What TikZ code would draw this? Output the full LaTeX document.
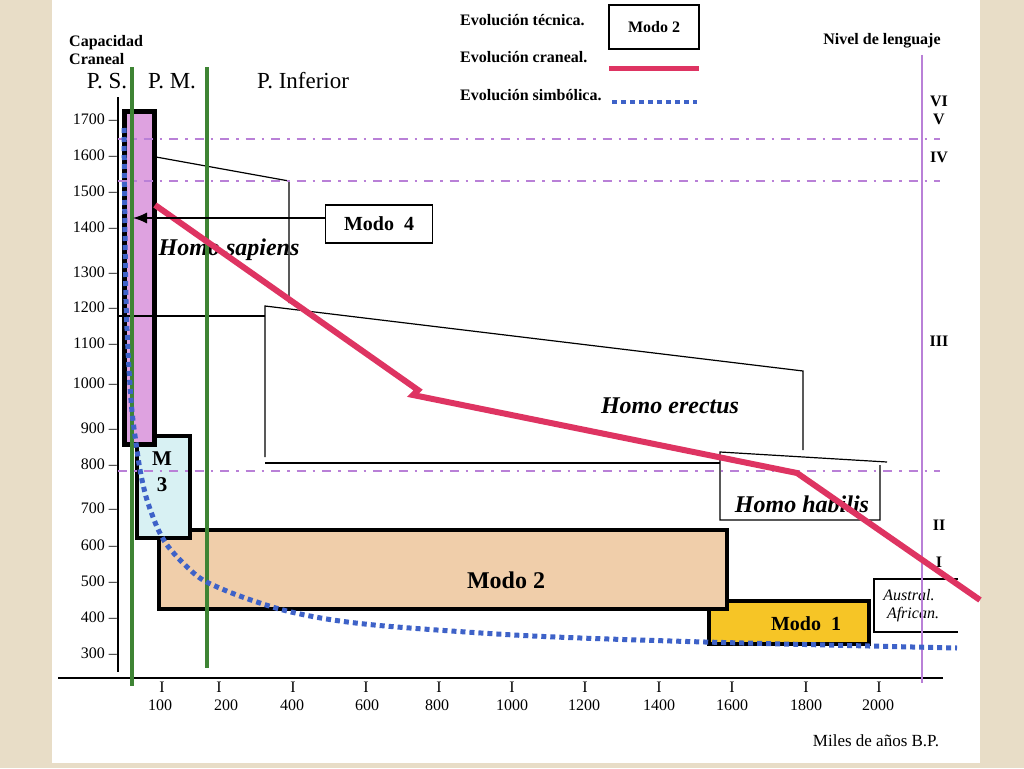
\documentclass[tikz,border=0pt]{standalone}
\usepackage{fontspec}
\setmainfont{Liberation Serif}
\usetikzlibrary{arrows.meta}
\definecolor{beige}{RGB}{232,221,199}
\definecolor{craneal}{RGB}{222,52,98}
\definecolor{simbol}{RGB}{62,98,200}
\definecolor{nivel}{RGB}{185,128,215}
\definecolor{verde}{RGB}{62,132,52}
\definecolor{rosa}{RGB}{222,162,224}
\definecolor{celeste}{RGB}{216,241,243}
\definecolor{tostado}{RGB}{240,206,170}
\definecolor{oro}{RGB}{246,197,38}
\tikzset{modo/.style={draw=black, line width=4.5pt},
  craneo/.style={draw=craneal, line width=6pt},
  simbolo/.style={draw=simbol, line width=5pt, dash pattern=on 5pt off 4pt},
  lengua/.style={draw=nivel, line width=2.5pt, dash pattern=on 9pt off 7pt on 2.5pt off 7pt},
  periodo/.style={draw=verde, line width=4pt},
  etiq/.style={font=\bfseries\fontsize{16}{18}\selectfont},
  especie/.style={font=\bfseries\itshape\fontsize{24}{28}\selectfont},
  valor/.style={font=\fontsize{16}{18}\selectfont}}

\begin{document}
\begin{tikzpicture}[x=1pt, y=-1pt]
    \fill[beige] (0,0) rectangle (1024,768);
    \fill[white] (52,0) rectangle (980,763);
    \useasboundingbox (0,0) rectangle (1024,768);

    \draw[line width=1.5pt] (118,97) -- (118,672);
    \draw[line width=1.5pt] (58,678) -- (943,678);
    \foreach \v/\y in {1700/119,1600/155,1500/191,1400/227,1300/272,1200/307,1100/343,1000/383,900/428,800/464,700/508,600/545,500/581,400/617,300/653}
        \node[valor, anchor=east, inner sep=0] (y\v) at (117,\y) {\v\ --};
    \foreach \v/\x/\t in {100/160/162,200/226/219,400/292/293,600/367/366,800/437/439,1000/512/512,1200/584/585,1400/659/659,1600/732/732,1800/806/806,2000/878/879} {
        \node[valor, inner sep=0] (t\v) at (\t,687) {I};
        \node[valor, inner sep=0] (x\v) at (\x,705) {\v};
    }
    \node[valor, font=\fontsize{17}{19}\selectfont, inner sep=0] (miles) at (876,741) {Miles de años B.P.};

    \node[etiq, align=left, anchor=west, inner sep=0] (cap) at (69,50) {Capacidad\\Craneal};
    \node[font=\fontsize{23}{25}\selectfont, inner sep=0] (ps) at (107,81) {P. S.};
    \node[font=\fontsize{23}{25}\selectfont, inner sep=0] (pm) at (172,81) {P. M.};
    \node[font=\fontsize{23}{25}\selectfont, inner sep=0] (pinf) at (303,81) {P. Inferior};

    \node[etiq, anchor=west, inner sep=0] (ltec) at (460,20) {Evolución técnica.};
    \node[etiq, draw, line width=1.5pt, minimum width=90, minimum height=44] (lmodo) at (654,27) {Modo 2};
    \node[etiq, anchor=west, inner sep=0] (lcra) at (460,57) {Evolución craneal.};
    \draw[craneo, line width=5pt] (609,68) -- (699,68);
    \node[etiq, anchor=west, inner sep=0] (lsim) at (460,95) {Evolución simbólica.};
    \draw[simbolo, line width=4pt] (612,102) -- (697,102);
    \node[etiq, inner sep=0] (nivel) at (882,41) {Nivel de lenguaje};

    \filldraw[modo, fill=oro] (709,601) rectangle (869,644);
    \node[etiq, font=\bfseries\fontsize{20}{22}\selectfont] (modo1) at (806,624) {Modo\enspace 1};
    \filldraw[modo, fill=tostado] (159,530) rectangle (727,609);
    \node[etiq, font=\bfseries\fontsize{24}{26}\selectfont] (modo2) at (506,580) {Modo 2};
    \filldraw[modo, fill=celeste] (137,436) rectangle (190,538);
    \node[etiq, font=\bfseries\fontsize{21}{26}\selectfont, align=center] (m3) at (162,472) {M\\3};
    \filldraw[modo, line width=5pt, fill=rosa] (124,111) rectangle (154,444);

    \draw[line width=1.2pt] (156,157) -- (289,181) -- (289,303);
    \draw[line width=1.2pt] (118,316) -- (265,316);
    \draw[line width=1.2pt] (265,457) -- (265,306) -- (803,371) -- (803,450);
    \draw[line width=1.2pt] (265,463) -- (720,463);
    \draw[line width=1.2pt] (887,462) -- (720,452) -- (720,520) -- (880,520) -- (880,465);
    \draw[line width=1.2pt] (958,579) -- (874,579) -- (874,632) -- (958,632);

    \node[especie] (sapiens) at (229,250) {Homo sapiens};
    \node[especie] (erectus) at (670,406) {Homo erectus};
    \node[especie] (habilis) at (802,504) {Homo habilis};
    \node[font=\itshape\fontsize{16}{18}\selectfont, align=center, inner sep=0] (austral) at (909,606) {Austral.\\\hspace*{8pt}African.};

    \node[etiq, draw, line width=1.5pt, font=\bfseries\fontsize{20}{22}\selectfont, minimum width=107, minimum height=38] (modo4) at (379,224) {Modo\enspace 4};
    \coordinate (punta) at (133,218);

    \draw[lengua] (118,139) -- (940,139);
    \draw[lengua] (118,181) -- (940,181);
    \draw[lengua] (118,471) -- (940,471);
    \draw[nivel, line width=1.5pt] (922,55) -- (922,683);
    \foreach \r/\y in {VI/101,V/119,IV/157,III/341,II/525,I/562}
        \node[etiq, inner sep=0] (niv\r) at (939,\y) {\r};

    \draw[periodo] (132,67) -- (132,686);
    \draw[periodo] (207,67) -- (207,668);

    \draw[simbolo] plot[smooth] coordinates {(124,128) (126,300) (131,400) (137,450) (141,475) (147,500) (157,527) (167,545) (183,563) (203,580) (237,595) (283,610) (333,620) (397,627) (533,636) (705,642) (957,648)};
    \draw[craneo] (155,205) -- (418,390) -- (413,395) -- (797,473) -- (980,600);
    \draw[-{Latex[length=14pt,width=11pt]}, line width=1.3pt] ([yshift=6pt]modo4.west) -- (punta);
\end{tikzpicture}
\end{document}
